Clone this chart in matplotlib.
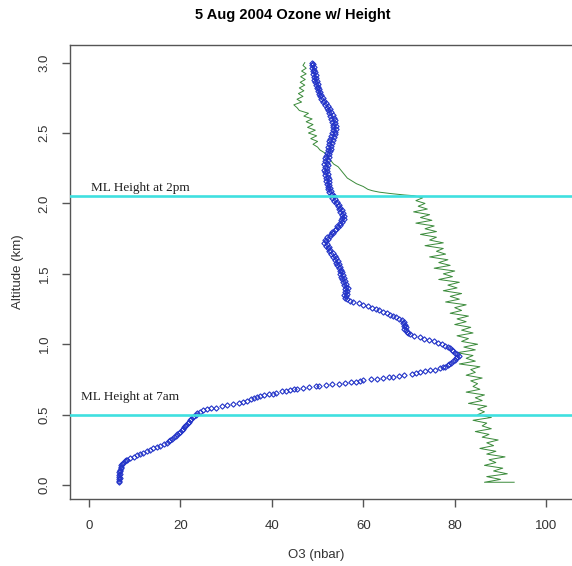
import matplotlib
matplotlib.use("Agg")
import matplotlib.pyplot as plt

# ---------------- data ----------------
title = "5 Aug 2004 Ozone w/ Height"
xlabel = "O3 (nbar)"
ylabel = "Altitude (km)"
x_ticks = [0, 20, 40, 60, 80, 100]
y_ticks = [0.0, 0.5, 1.0, 1.5, 2.0, 2.5, 3.0]
y_ticklabels = ["0.0", "0.5", "1.0", "1.5", "2.0", "2.5", "3.0"]

ml_heights = [2.055, 0.495]
ml_labels = ["ML Height at 2pm", "ML Height at 7am"]
ml_label_x = [0.4, -1.8]
ml_label_y = [2.09, 0.604]

# blue profile (open diamonds)
blue_alt = [
    0.02, 0.03, 0.04, 0.05, 0.06, 0.07, 0.08, 0.09, 0.10, 0.11, 0.12, 0.13, 0.14, 0.15, 0.16, 0.17,
    0.175, 0.18, 0.19, 0.20, 0.21, 0.22, 0.23, 0.24, 0.25, 0.26, 0.27, 0.28, 0.29, 0.30, 0.31, 0.32,
    0.33, 0.34, 0.35, 0.36, 0.37, 0.38, 0.39, 0.40, 0.41, 0.42, 0.43, 0.44, 0.45, 0.46, 0.47, 0.48,
    0.49, 0.50, 0.51, 0.52, 0.53, 0.54,
    0.545, 0.55, 0.56, 0.565, 0.575, 0.585, 0.59, 0.60, 0.61, 0.615, 0.625, 0.63, 0.64, 0.645, 0.65,
    0.655, 0.665, 0.67, 0.675, 0.68, 0.685, 0.69, 0.695, 0.70, 0.705, 0.71, 0.715, 0.72, 0.725, 0.73,
    0.735, 0.74, 0.745, 0.75, 0.755, 0.76, 0.765, 0.77, 0.775, 0.78, 0.79, 0.795, 0.80, 0.81, 0.815,
    0.82, 0.83, 0.835, 0.84, 0.85, 0.86, 0.87, 0.88, 0.89, 0.90, 0.91, 0.92, 0.93, 0.94, 0.95, 0.96,
    0.97, 0.98, 0.99, 1.00, 1.01, 1.02, 1.03, 1.04, 1.05, 1.06, 1.07, 1.08, 1.09, 1.10, 1.11, 1.12,
    1.13, 1.14, 1.15, 1.16, 1.17, 1.18, 1.19, 1.20, 1.21, 1.22, 1.23, 1.24, 1.25, 1.26, 1.27, 1.28,
    1.29, 1.30, 1.31, 1.32, 1.33, 1.34, 1.35, 1.36, 1.37, 1.38, 1.39, 1.40, 1.41, 1.42, 1.43, 1.44,
    1.45, 1.46, 1.47, 1.48, 1.49, 1.50, 1.51, 1.52, 1.53, 1.54, 1.55, 1.56, 1.57, 1.58, 1.59, 1.60,
    1.61, 1.62, 1.63, 1.64, 1.65, 1.66, 1.67, 1.68, 1.69, 1.70, 1.71, 1.72, 1.73, 1.74, 1.75, 1.76,
    1.77, 1.78, 1.79, 1.80, 1.81, 1.82, 1.83, 1.84, 1.85, 1.86, 1.87, 1.88, 1.89, 1.90, 1.91, 1.92,
    1.93, 1.94, 1.95, 1.96, 1.97, 1.98, 1.99, 2.00, 2.01, 2.02, 2.03, 2.04, 2.05, 2.06, 2.07, 2.08,
    2.09, 2.10, 2.11, 2.12, 2.13, 2.14, 2.15, 2.16, 2.17, 2.18, 2.19, 2.20, 2.21, 2.22, 2.23, 2.24,
    2.25, 2.26, 2.27, 2.28, 2.29, 2.30, 2.31, 2.32, 2.33, 2.34, 2.35, 2.36, 2.37, 2.38, 2.39, 2.40,
    2.41, 2.42, 2.43, 2.44, 2.45, 2.46, 2.47, 2.48, 2.49, 2.50, 2.51, 2.52, 2.53, 2.54, 2.55, 2.56,
    2.57, 2.58, 2.59, 2.60, 2.61, 2.62, 2.63, 2.64, 2.65, 2.66, 2.67, 2.68, 2.69, 2.70, 2.71, 2.72,
    2.73, 2.74, 2.75, 2.76, 2.77, 2.78, 2.79, 2.80, 2.81, 2.82, 2.83, 2.84, 2.85, 2.86, 2.87, 2.88,
    2.89, 2.90, 2.91, 2.92, 2.93, 2.94, 2.95, 2.96, 2.97, 2.98, 2.99, 3.00,
]
blue_o3 = [
    6.5, 6.6, 6.5, 6.7, 6.6, 6.5, 6.7, 6.6, 6.7, 6.8, 6.9, 7.0, 7.1, 7.2, 7.5, 7.8,
    8.0, 8.2, 9.0, 9.8, 10.5, 11.2, 11.9, 12.7, 13.4, 14.1, 14.8, 15.6, 16.3, 17.0, 17.4, 17.8,
    18.2, 18.6, 19.0, 19.3, 19.6, 20.0, 20.3, 20.6, 20.8, 21.1, 21.3, 21.6, 21.8, 22.1, 22.4, 22.7,
    23.0, 23.3, 23.6, 24.3, 25.0, 25.8,
    26.6, 27.8, 29.0, 30.2, 31.5, 32.8, 33.6, 34.5, 35.4, 36.0, 36.8, 37.5, 38.3, 39.4, 40.2,
    41.0, 42.3, 43.0, 44.0, 44.8, 45.6, 46.8, 48.2, 49.6, 50.4, 51.8, 53.2, 54.6, 56.0, 57.2,
    58.3, 59.3, 60.0, 61.6, 63.0, 64.3, 65.6, 66.4, 67.8, 69.0, 70.6, 71.6, 72.4, 73.4, 74.6,
    75.6, 76.8, 77.4, 77.9, 78.5, 78.8, 79.2, 79.6, 80.0, 80.3, 80.6, 80.9, 80.5, 80.1, 79.7, 79.4,
    79.0, 78.6, 77.9, 77.2, 76.3, 75.5, 74.3, 73.2, 72.3, 71.0, 70.2, 69.8, 69.6, 69.4, 69.0, 69.3,
    68.9, 69.1, 68.7, 68.9, 68.5, 67.8, 67.2, 66.5, 65.9, 65.2, 64.3, 63.5, 62.7, 61.9, 61.0, 60.0,
    59.0, 57.8, 57.0, 56.5, 56.0, 56.3, 55.8, 56.4, 55.9, 56.5, 56.0, 56.6, 56.2, 55.7, 56.3, 55.6,
    56.0, 55.3, 55.8, 55.1, 55.6, 54.9, 55.4, 54.8, 55.2, 54.6, 55.0, 54.3, 54.7, 54.0, 54.4, 53.7,
    54.0, 53.4, 53.7, 53.0, 53.3, 52.6, 52.8, 52.2, 52.4, 51.8, 52.0, 51.5, 51.9, 51.6, 52.3, 52.0,
    52.7, 53.0, 53.4, 53.2, 53.8, 54.1, 54.5, 54.3, 54.9, 55.0, 55.4, 55.2, 55.7, 55.4, 55.8, 55.3,
    55.6, 55.0, 55.4, 54.7, 55.0, 54.4, 54.7, 54.0, 54.2, 53.6, 53.9, 53.2, 53.5, 52.9, 53.2, 52.6,
    52.9, 52.3, 52.7, 52.2, 52.6, 52.0, 52.5, 51.9, 52.4, 51.8, 52.3, 51.7, 52.2, 51.6, 52.1, 51.5,
    52.0, 51.6, 52.2, 51.5, 52.1, 51.6, 52.3, 51.7, 52.4, 51.9, 52.6, 52.0, 52.7, 52.2, 52.9, 52.3,
    53.0, 52.5, 53.2, 52.6, 53.4, 52.8, 53.6, 53.0, 53.8, 53.2, 53.9, 53.3, 54.0, 53.4, 54.0, 53.3,
    53.8, 53.1, 53.7, 53.0, 53.5, 52.8, 53.3, 52.6, 53.0, 52.3, 52.7, 52.0, 52.3, 51.6, 51.9, 51.2,
    51.5, 50.8, 51.1, 50.5, 50.8, 50.2, 50.5, 50.0, 50.3, 49.8, 50.1, 49.6, 50.0, 49.5, 49.9, 49.3,
    49.7, 49.2, 49.6, 49.0, 49.4, 48.9, 49.3, 48.8, 49.2, 48.7, 49.1, 48.8,
]

# green profile (thin line)
green_alt = [
    0.02, 0.02, 0.04, 0.06, 0.08, 0.10, 0.12, 0.14, 0.16, 0.18, 0.20, 0.22, 0.24, 0.26, 0.28, 0.30,
    0.32, 0.34, 0.36, 0.38, 0.40, 0.42, 0.44, 0.46, 0.48, 0.50, 0.52, 0.54, 0.56, 0.58, 0.60, 0.62,
    0.64, 0.66, 0.68, 0.70, 0.72, 0.74, 0.76, 0.78, 0.80, 0.82, 0.84, 0.86, 0.88, 0.90, 0.92, 0.94,
    0.96, 0.98, 1.00, 1.02, 1.04, 1.06, 1.08, 1.10, 1.12, 1.14, 1.16, 1.18, 1.20, 1.22, 1.24, 1.26,
    1.28, 1.30, 1.32, 1.34, 1.36, 1.38, 1.40, 1.42, 1.44, 1.46, 1.48, 1.50, 1.52, 1.54, 1.56, 1.58,
    1.60, 1.62, 1.64, 1.66, 1.68, 1.70, 1.72, 1.74, 1.76, 1.78, 1.80, 1.82, 1.84, 1.86, 1.88, 1.90,
    1.92, 1.94, 1.96, 1.98, 2.00, 2.02, 2.04, 2.055,
    2.06, 2.07, 2.08, 2.09, 2.10, 2.12, 2.14, 2.16, 2.18, 2.20, 2.22, 2.24, 2.26, 2.28, 2.30, 2.32,
    2.34, 2.36, 2.38, 2.40, 2.42, 2.44, 2.46, 2.48, 2.50, 2.52, 2.54, 2.56, 2.58, 2.60, 2.62, 2.64,
    2.66, 2.68, 2.70, 2.72, 2.74, 2.76, 2.78, 2.80, 2.82, 2.84, 2.86, 2.88, 2.90, 2.92, 2.94, 2.96,
    2.98, 3.00,
]
green_o3 = [
    93.0, 86.5, 90.0, 87.0, 91.5, 88.5, 90.5, 86.5, 89.0, 87.5, 91.0, 87.0, 89.0, 85.5, 88.5, 87.0,
    89.5, 86.0, 87.5, 84.5, 88.0, 86.0, 87.0, 84.0, 88.0, 85.0, 86.5, 85.0, 87.0, 83.0, 86.0, 84.5,
    86.5, 82.5, 85.5, 84.0, 85.0, 83.5, 86.0, 82.5, 84.5, 83.5, 85.5, 81.0, 84.5, 82.5, 84.0, 80.5,
    84.5, 82.0, 85.0, 81.5, 83.0, 80.5, 84.0, 81.5, 83.5, 80.0, 82.5, 80.5, 83.0, 79.0, 81.5, 80.0,
    82.5, 78.0, 81.0, 79.0, 81.5, 77.5, 80.5, 78.5, 81.0, 76.5, 79.5, 77.5, 80.0, 75.5, 79.0, 76.5,
    78.5, 74.5, 78.0, 76.0, 77.5, 73.5, 77.5, 74.5, 76.0, 72.5, 76.0, 73.5, 75.5, 71.5, 75.0, 72.5,
    74.5, 71.0, 74.0, 72.0, 73.5, 71.5, 73.0, 71.0,
    69.0, 66.0, 63.5, 62.0, 61.0, 60.0, 58.5, 57.5, 56.5, 56.0, 55.5, 55.0, 54.5, 53.5, 53.0, 52.5,
    52.0, 51.5, 50.5, 50.0, 49.0, 50.0, 48.5, 49.8, 48.0, 49.5, 47.8, 49.0, 47.5, 48.8, 47.0, 48.0,
    46.0, 45.5, 44.8, 46.5, 45.5, 46.8, 45.8, 47.0, 46.0, 47.2, 46.2, 47.3, 46.3, 47.5, 46.5, 47.5,
    46.8, 47.2,
]

# ---------------- figure ----------------
W, H = 572, 566
fig = plt.figure(figsize=(W / 100, H / 100), dpi=100)
fig.patch.set_facecolor("white")

ax_left, ax_right, ax_top, ax_bottom = 70, 580, 45, 499
ax = fig.add_axes([ax_left / W, 1 - ax_bottom / H,
                   (ax_right - ax_left) / W, (ax_bottom - ax_top) / H])
ax.set_xlim(-4.16, 107.4)
ax.set_ylim(-0.099, 3.125)

ax.plot(green_o3, green_alt, color="#3a8a3a", lw=0.7, zorder=2)
ax.plot(blue_o3, blue_alt, linestyle="none", marker="D", ms=2.7,
        mfc="none", mec="#2233c8", mew=0.8, zorder=3)

for h in ml_heights:
    ax.axhline(h, color="#3fe0e0", lw=1.9, zorder=4)
for lab, lx, ly in zip(ml_labels, ml_label_x, ml_label_y):
    ax.text(lx, ly, lab, family="Liberation Serif", fontsize=9.5,
            color="#222222", ha="left", va="baseline", zorder=5)

for s in ax.spines.values():
    s.set_color("#555555")
    s.set_linewidth(1.0)

ax.set_xticks(x_ticks)
ax.set_xticklabels([str(v) for v in x_ticks], family="Liberation Sans",
                   fontsize=9.5, color="#333333")
ax.set_yticks(y_ticks)
ax.set_yticklabels(y_ticklabels, family="Liberation Sans", fontsize=9.5,
                   color="#333333", rotation=90, va="center")
ax.tick_params(axis="both", direction="out", length=6, width=1.0,
               color="#555555")
ax.tick_params(axis="x", pad=9)
ax.tick_params(axis="y", pad=8)

fig.text(293 / W, 1 - 15 / H, title, family="Liberation Sans",
         fontweight="bold", fontsize=10.5, ha="center", va="center")
fig.text(316 / W, 1 - 555 / H, xlabel, family="Liberation Sans",
         fontsize=9.5, color="#333333", ha="center", va="center")
fig.text(18 / W, 1 - 272 / H, ylabel, family="Liberation Sans",
         fontsize=9.5, color="#333333", ha="center", va="center", rotation=90)

fig.savefig("out.png", dpi=100, facecolor="white")
